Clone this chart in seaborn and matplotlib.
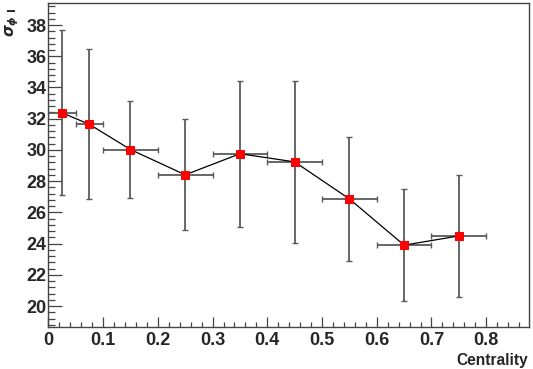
import numpy as np
import pandas as pd
import matplotlib
matplotlib.use('Agg')
import matplotlib.pyplot as plt
from matplotlib.ticker import MultipleLocator
import seaborn as sns

# values
centrality = [0.025, 0.075, 0.15, 0.25, 0.35, 0.45, 0.55, 0.65, 0.75]
cent_err = [0.025, 0.025, 0.05, 0.05, 0.05, 0.05, 0.05, 0.05, 0.05]
sigma = [32.38, 31.64, 30.03, 28.41, 29.76, 29.24, 26.87, 23.91, 24.5]
sigma_err = [5.28, 4.8, 3.12, 3.55, 4.68, 5.19, 3.96, 3.6, 3.88]
xtick_labels = ['0', '0.1', '0.2', '0.3', '0.4', '0.5', '0.6', '0.7', '0.8']

df = pd.DataFrame({'Centrality': centrality, 'sigma': sigma})

sns.set_style('ticks')
plt.rcParams['font.family'] = ['Liberation Sans', 'DejaVu Sans']
plt.rcParams['font.weight'] = 'bold'

fig = plt.figure(figsize=(5.33, 3.69), dpi=100)
ax = fig.add_axes([0.0908, 0.1125, 0.9025, 0.8786])

ax.errorbar(centrality, sigma, xerr=cent_err, yerr=sigma_err, fmt='none',
            ecolor='#5a5a5a', elinewidth=1.3, capsize=2, capthick=1.0, zorder=2)
sns.lineplot(data=df, x='Centrality', y='sigma', color='black', linewidth=0.9,
             marker='s', markersize=6, markerfacecolor='red', markeredgecolor='red',
             ax=ax, zorder=3)

ax.set_xlim(0, 0.879)
ax.set_ylim(18.64, 39.39)
ax.xaxis.set_minor_locator(MultipleLocator(0.02))
ax.yaxis.set_minor_locator(MultipleLocator(0.4))
ax.set_xticks(np.arange(0, 0.81, 0.1))
ax.set_xticklabels(xtick_labels)
ax.set_yticks(np.arange(20, 39, 2))
ax.tick_params(which='both', direction='in', top=False, right=False,
               labelsize=13, width=0.9, color='#444444')
ax.tick_params(axis='x', which='major', length=7.2, pad=3.5)
ax.tick_params(axis='x', which='minor', length=3.6)
ax.tick_params(axis='y', which='major', length=10, pad=1.5)
ax.tick_params(axis='y', which='minor', length=5)
for lab in ax.get_xticklabels() + ax.get_yticklabels():
    lab.set_fontweight('bold')
for s in ax.spines.values():
    s.set_linewidth(1.0)
    s.set_color('#444444')

ax.set_xlabel('Centrality', fontsize=11.2, fontweight='bold', ha='right', x=1.0)
ax.set_ylabel(r'$\sigma_{\phi\ \mathrm{I}}$', fontsize=11, ha='right', y=1.0)
ax.xaxis.set_label_coords(0.997, -0.079)
ax.yaxis.set_label_coords(-0.056, 0.985)

fig.savefig('out.png', dpi=100)
